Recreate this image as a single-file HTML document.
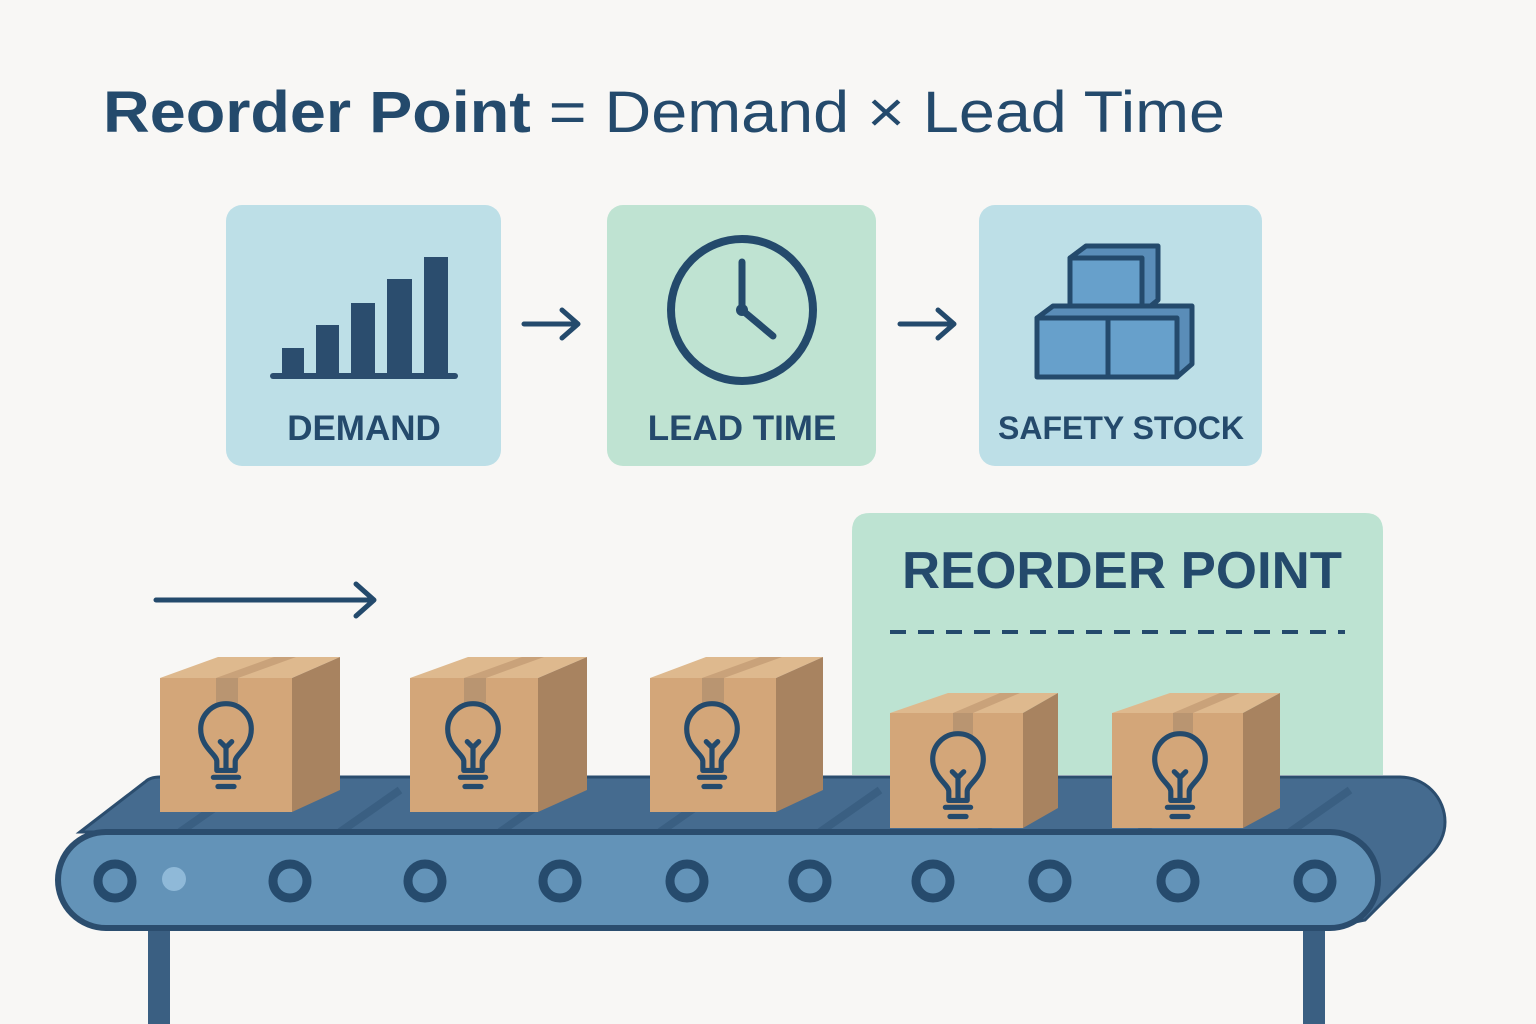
<!DOCTYPE html>
<html><head><meta charset="utf-8"><style>
html,body{margin:0;padding:0;background:#f8f7f5}
svg{display:block}
text{font-family:"Liberation Sans",sans-serif}
</style></head><body>
<svg width="1536" height="1024" viewBox="0 0 1536 1024" xmlns="http://www.w3.org/2000/svg">
<defs>
<g id="bulb0" fill="none" stroke="#244a6c" stroke-width="4.5" stroke-linecap="round" stroke-linejoin="round">
  <path d="M-8,16 L-8,8 C-8,2 -22,-4 -22,-20 A22,22 0 1 1 22,-20 C22,-4 8,2 8,8 L8,16 Z"/>
  <path d="M0,14 L0,-4 M-5,-9 L0,-4 L5,-9"/>
  <path d="M-11,22 L11,22 M-7,30 L7,30"/>
</g>
<g id="bulb"><use href="#bulb0" transform="scale(1.15)"/></g>
</defs>
<rect width="1536" height="1024" fill="#f8f7f5"/>
<text x="103" y="132" font-size="58" fill="#244a6c" textLength="1122" lengthAdjust="spacingAndGlyphs"><tspan font-weight="bold">Reorder Point</tspan> = Demand × Lead Time</text>

<rect x="226" y="205" width="275" height="261" rx="16" fill="#bddfe7"/>
<rect x="607" y="205" width="269" height="261" rx="16" fill="#bfe3d2"/>
<rect x="979" y="205" width="283" height="261" rx="16" fill="#bddfe7"/>
<g fill="#2b4d6e">
<rect x="282" y="348" width="22" height="28"/><rect x="316" y="325" width="23" height="51"/>
<rect x="351" y="303" width="24" height="73"/><rect x="387" y="279" width="25" height="97"/>
<rect x="424" y="257" width="24" height="119"/><rect x="270" y="373" width="188" height="6" rx="3"/>
</g>
<circle cx="742" cy="310" r="71" fill="none" stroke="#244a6c" stroke-width="8"/>
<path d="M742,262 L742,310 L773,336" fill="none" stroke="#244a6c" stroke-width="7" stroke-linecap="round"/>
<circle cx="742" cy="310" r="6" fill="#244a6c"/>
<g stroke="#244a6c" stroke-width="5" stroke-linejoin="round" fill="#67a0cb">
<path d="M1070,258 L1086,246 L1158,246 L1158,300 L1142,313 Z" fill="#5a8db8"/>
<rect x="1070" y="258" width="72" height="55"/>
<path d="M1037,318 L1053,306 L1192,306 L1192,364 L1177,377 Z" fill="#5a8db8"/>
<rect x="1037" y="318" width="71" height="59"/><rect x="1108" y="318" width="69" height="59"/>
</g>
<g font-weight="bold" font-size="35" fill="#244a6c" text-anchor="middle">
<text x="364" y="440">DEMAND</text><text x="742" y="440">LEAD TIME</text><text x="1121" y="439" font-size="32">SAFETY STOCK</text>
</g>
<g fill="none" stroke="#244a6c" stroke-width="5" stroke-linecap="round" stroke-linejoin="round">
<path d="M524,324 L578,324 M562,310 L578,324 L562,338"/>
<path d="M900,324 L954,324 M938,310 L954,324 L938,338"/>
<path d="M156,600 L372,600 M356,584 L374,600 L356,616"/>
</g>

<path d="M852,775 L852,531 Q852,513 870,513 L1365,513 Q1383,513 1383,531 L1383,775 Z" fill="#bde3d2"/>
<text x="1122" y="588" font-size="52" font-weight="bold" fill="#244a6c" text-anchor="middle" textLength="440" lengthAdjust="spacingAndGlyphs">REORDER POINT</text>
<line x1="890" y1="632" x2="1345" y2="632" stroke="#244a6c" stroke-width="4" stroke-dasharray="16,12"/>

<rect x="148" y="920" width="22" height="104" fill="#3a5f82"/>
<rect x="1303" y="920" width="22" height="104" fill="#3a5f82"/>
<path d="M80,832 L145,782 Q150,777 160,777 L1400,777 A45,45 0 0 1 1445,822 Q1445,840 1430,855 L1365,920 L1340,925 L1340,832 Z" fill="#456b8f" stroke="#2b4d6e" stroke-width="3"/>
<g stroke="#3a5f82" stroke-width="8">
<path d="M180,832 L240,790 M340,832 L400,790 M500,832 L560,790 M660,832 L720,790 M820,832 L880,790 M980,832 L1040,790 M1140,832 L1200,790 M1290,832 L1350,790"/>
</g>
<rect x="58" y="832" width="1320" height="96" rx="48" fill="#6393b8" stroke="#2b4d6e" stroke-width="6"/>
<g fill="none" stroke="#264b6d" stroke-width="9">
<circle cx="115" cy="881" r="17"/><circle cx="290" cy="881" r="17"/><circle cx="425" cy="881" r="17"/>
<circle cx="560" cy="881" r="17"/><circle cx="687" cy="881" r="17"/><circle cx="810" cy="881" r="17"/>
<circle cx="933" cy="881" r="17"/><circle cx="1050" cy="881" r="17"/><circle cx="1178" cy="881" r="17"/>
<circle cx="1315" cy="881" r="17"/>
</g>
<circle cx="174" cy="879" r="12" fill="#8fb9d8"/>

<g>
<path d="M160,678 L218,657 L340,657 L292,678 Z" fill="#deb98e"/>
<path d="M292,678 L340,657 L340,790 L292,812 Z" fill="#a88360"/>
<rect x="160" y="678" width="132" height="134" fill="#d3a679"/>
<rect x="216" y="678" width="22" height="25" fill="#b99571"/>
<path d="M216,678 L274,657 L296,657 L238,678 Z" fill="#c9a27a"/>
<use href="#bulb" x="226" y="752"/>
</g>
<g>
<path d="M410,678 L468,657 L587,657 L538,678 Z" fill="#deb98e"/>
<path d="M538,678 L587,657 L587,790 L538,812 Z" fill="#a88360"/>
<rect x="410" y="678" width="128" height="134" fill="#d3a679"/>
<rect x="464" y="678" width="22" height="25" fill="#b99571"/>
<path d="M464,678 L522,657 L544,657 L486,678 Z" fill="#c9a27a"/>
<use href="#bulb" x="473" y="752"/>
</g>
<g>
<path d="M650,678 L706,657 L823,657 L776,678 Z" fill="#deb98e"/>
<path d="M776,678 L823,657 L823,790 L776,812 Z" fill="#a88360"/>
<rect x="650" y="678" width="126" height="134" fill="#d3a679"/>
<rect x="702" y="678" width="22" height="25" fill="#b99571"/>
<path d="M702,678 L760,657 L782,657 L724,678 Z" fill="#c9a27a"/>
<use href="#bulb" x="712" y="752"/>
</g>
<g>
<path d="M890,713 L948,693 L1058,693 L1023,713 Z" fill="#deb98e"/>
<path d="M1023,713 L1058,693 L1058,808 L1023,828 Z" fill="#a88360"/>
<rect x="890" y="713" width="133" height="115" fill="#d3a679"/>
<rect x="953" y="713" width="20" height="22" fill="#b99571"/>
<path d="M953,713 L1000,693 L1020,693 L973,713 Z" fill="#c9a27a"/>
<use href="#bulb" x="958" y="782"/>
</g>
<g>
<path d="M1112,713 L1170,693 L1280,693 L1243,713 Z" fill="#deb98e"/>
<path d="M1243,713 L1280,693 L1280,808 L1243,828 Z" fill="#a88360"/>
<rect x="1112" y="713" width="131" height="115" fill="#d3a679"/>
<rect x="1173" y="713" width="20" height="22" fill="#b99571"/>
<path d="M1173,713 L1220,693 L1240,693 L1193,713 Z" fill="#c9a27a"/>
<use href="#bulb" x="1180" y="782"/>
</g>
</svg>
</body></html>
